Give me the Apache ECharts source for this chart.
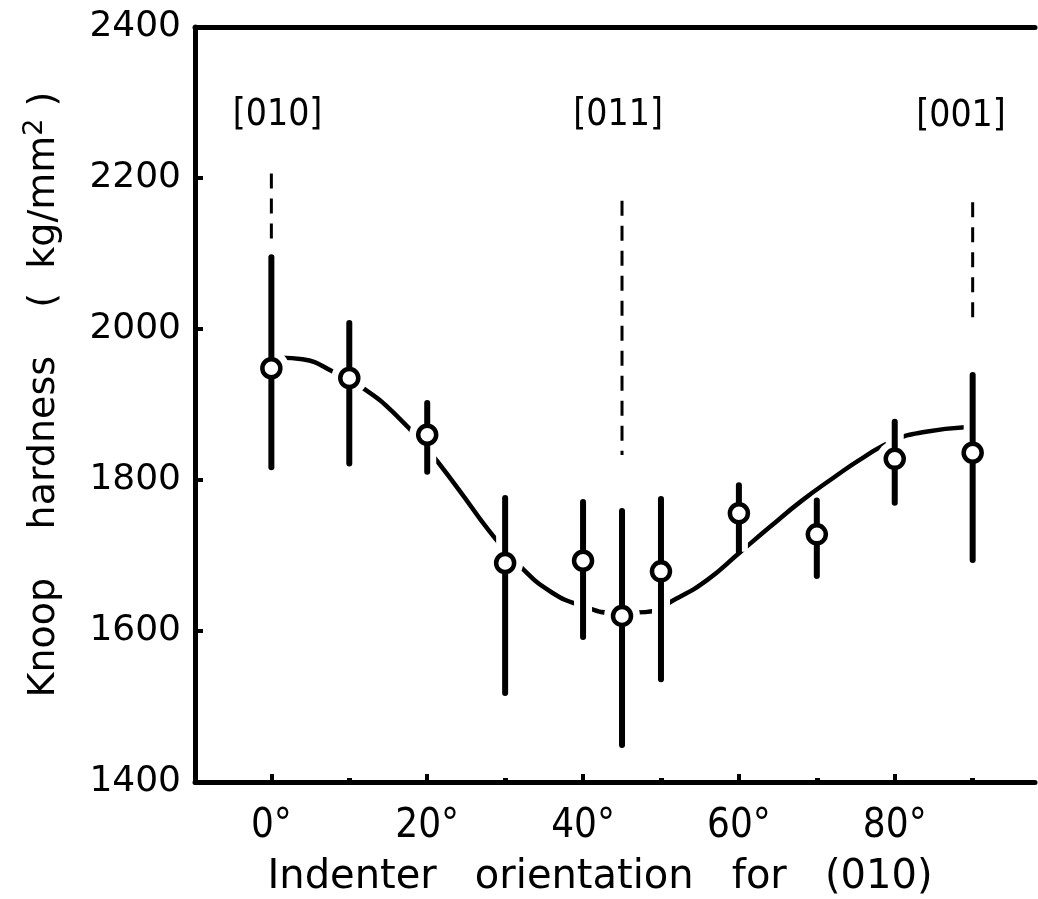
<!DOCTYPE html>
<html>
<head>
<meta charset="utf-8">
<script src="https://cdn.jsdelivr.net/npm/echarts@6/dist/echarts.min.js"></script>
<style>
html,body{margin:0;padding:0;background:#fff;}
#c{width:1038px;height:899px;}
</style>
</head>
<body>
<div id="c"></div>
<script>
// ---- data ----
var angles = [0, 10, 20, 30, 40, 45, 50, 60, 70, 80, 90];
var meanH  = [1948, 1935, 1860, 1690, 1693, 1620, 1679, 1756, 1728, 1828, 1836];
var upperH = [2095, 2008, 1902, 1776, 1771, 1759, 1775, 1793, 1773, 1877, 1939];
var lowerH = [1817, 1822, 1811, 1518, 1592, 1449, 1536, 1705, 1673, 1770, 1694];

var curveX = [1.2, 4, 8, 12, 16, 20, 24, 28, 32, 36, 40, 44, 48, 52, 56, 60, 64, 68, 72, 76, 80, 84, 89];
var curveY = [1962, 1960, 1943, 1920, 1886, 1841, 1788, 1732, 1685, 1651, 1633, 1624, 1625, 1643, 1668, 1703, 1738, 1772, 1802, 1830, 1853, 1864, 1870];

var refX      = [0, 45, 90];
var refTop    = [2206, 2170, 2168];
var refBottom = [2120, 1833, 2005];

var dirLabels = ['[010]', '[011]', '[001]'];
var dirX      = [0.8, 44.5, 88.5];
var dirY      = [2283, 2283, 2281];

var xTickMajor = [0, 20, 40, 60, 80];
var xTickMinor = [10, 30, 50, 70, 90];

// ---- build ----
var chart = echarts.init(document.getElementById('c'));

var barData = angles.map(function (a, i) { return [a, meanH[i], upperH[i], lowerH[i]]; });
var curveData = curveX.map(function (x, i) { return [x, curveY[i]]; });

var refSeries = refX.map(function (x, i) {
  return {
    type: 'line', xAxisIndex: 0, yAxisIndex: 0, z: 2,
    data: [[x, refTop[i]], [x, refBottom[i]]],
    symbol: 'none', silent: true,
    lineStyle: { color: '#000', width: 3, type: [15, 10] }
  };
});

var option = {
  backgroundColor: '#fff',
  animation: false,
  grid: { left: 195, right: 3, top: 27, bottom: 117, containLabel: false, outerBoundsMode: 'none' },
  xAxis: [
    {
      type: 'value', position: 'bottom', min: -9.8, max: 98,
      axisLine: { show: true, onZero: false, lineStyle: { color: '#000', width: 5 } },
      axisTick: { show: true, inside: true, length: 8, customValues: xTickMajor, lineStyle: { color: '#000', width: 4 } },
      axisLabel: {
        show: true, customValues: xTickMajor, margin: 25,
        formatter: function (v) { return v + '°'; },
        color: '#000', fontSize: 40, fontFamily: "'DejaVu Sans Condensed', 'Liberation Sans', sans-serif"
      },
      splitLine: { show: false },
      name: 'Indenter   orientation   for   (010)',
      nameLocation: 'middle', nameGap: 76,
      nameTextStyle: { color: '#000', fontSize: 40, fontFamily: 'DejaVu Sans', padding: [0, 30, 0, 0] }
    },
    {
      type: 'value', position: 'bottom', min: -9.8, max: 98,
      axisLine: { show: false, onZero: false },
      axisTick: { show: true, inside: true, length: 4, customValues: xTickMinor, lineStyle: { color: '#000', width: 5 } },
      axisLabel: { show: false },
      splitLine: { show: false }
    },
    {
      type: 'value', position: 'top', min: -9.8, max: 98,
      axisLine: { show: true, onZero: false, lineStyle: { color: '#000', width: 5 } },
      axisTick: { show: false }, axisLabel: { show: false }, splitLine: { show: false }
    }
  ],
  yAxis: [{
    type: 'value', min: 1400, max: 2400, interval: 200,
    axisLine: { show: true, onZero: false, lineStyle: { color: '#000', width: 5 } },
    axisTick: { show: true, inside: true, length: 8, lineStyle: { color: '#000', width: 4 } },
    axisLabel: {
      color: '#000', fontSize: 36, fontFamily: 'DejaVu Sans', margin: 14,
      formatter: function (v) { return String(v); }
    },
    splitLine: { show: false },
    name: '{a|Knoop    hardness    (  kg/mm}{s|2}{a| )}',
    nameLocation: 'middle', nameGap: 128,
    nameTextStyle: {
      color: '#000', padding: [0, 0, 0, 20],
      rich: {
        a: { fontSize: 38, fontFamily: 'DejaVu Sans', color: '#000', lineHeight: 46 },
        s: { fontSize: 27, fontFamily: 'DejaVu Sans', color: '#000', lineHeight: 14, verticalAlign: 'top' }
      }
    }
  }],
  series: [
    {
      type: 'line', xAxisIndex: 0, yAxisIndex: 0, z: 2,
      data: curveData, smooth: true, symbol: 'none', silent: true,
      lineStyle: { color: '#000', width: 4.5 }
    }
  ].concat(refSeries).concat([
    {
      type: 'custom', xAxisIndex: 0, yAxisIndex: 0, z: 5,
      data: barData,
      encode: { x: 0, y: [1, 2, 3] },
      renderItem: function (params, api) {
        var x = api.value(0);
        var pm = api.coord([x, api.value(1)]);
        var ph = api.coord([x, api.value(2)]);
        var pl = api.coord([x, api.value(3)]);
        return {
          type: 'group',
          children: [
            { type: 'line', shape: { x1: ph[0], y1: ph[1], x2: pl[0], y2: pl[1] }, style: { stroke: '#fff', lineWidth: 18 } },
            { type: 'circle', shape: { cx: pm[0], cy: pm[1], r: 18 }, style: { fill: '#fff' } },
            { type: 'line', shape: { x1: ph[0], y1: ph[1], x2: pl[0], y2: pl[1] }, style: { stroke: '#000', lineWidth: 6, lineCap: 'round' } },
            { type: 'circle', shape: { cx: pm[0], cy: pm[1], r: 9 }, style: { fill: '#fff', stroke: '#000', lineWidth: 4.5 } }
          ]
        };
      }
    },
    {
      type: 'scatter', xAxisIndex: 0, yAxisIndex: 0, z: 6,
      symbolSize: 0, silent: true,
      itemStyle: { opacity: 1 },
      data: dirLabels.map(function (t, i) { return { value: [dirX[i], dirY[i]], name: t }; }),
      label: {
        show: true, position: 'inside', opacity: 1,
        formatter: function (p) { return p.name; },
        color: '#000', fontSize: 37,
        fontFamily: "'DejaVu Sans Condensed', sans-serif"
      }
    }
  ])
};

chart.setOption(option);
</script>
</body>
</html>
